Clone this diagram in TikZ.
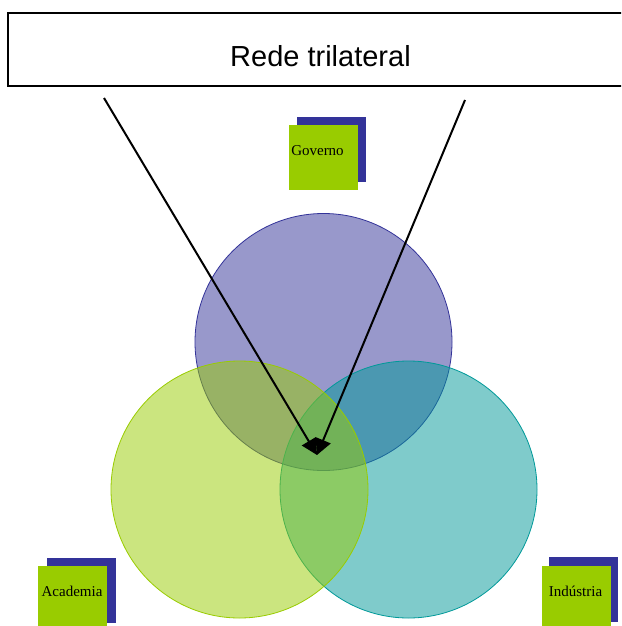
\documentclass[tikz,border=0pt]{standalone}
\usepackage{fontspec}
\setmainfont{Liberation Serif}
\newfontfamily\titlefont{Liberation Sans}
\usetikzlibrary{arrows.meta}
\definecolor{govblue}{HTML}{333399}
\definecolor{indteal}{HTML}{009999}
\definecolor{acalime}{HTML}{99CC00}
\tikzset{
  sphere/.style={circle, minimum size=257pt, inner sep=0pt, line width=0.8pt, fill opacity=0.5},
  tagbox/.style={rectangle, fill=acalime, minimum width=69pt, minimum height=65pt, inner sep=0pt},
  tagshadow/.style={rectangle, fill=govblue, minimum width=69pt, minimum height=65pt, inner sep=0pt},
  taglabel/.style={font=\fontsize{15}{17}\selectfont, inner sep=0pt, anchor=base},
  link/.style={line width=2pt, -{Triangle[length=16pt,width=16pt]}},
}
\begin{document}
\begin{tikzpicture}[x=1pt,y=-1pt]
\clip (0,0) rectangle (621,626);
\fill[white] (0,0) rectangle (621,626);

% title banner, running off the right edge
\node[draw, line width=1.3pt, rectangle, minimum width=622pt, minimum height=73pt, inner sep=0pt] (title) at (319,49.5) {};
\node[font=\titlefont\fontsize{29}{32}\selectfont, inner sep=0pt, anchor=base] (titleT) at (320.5,66.5) {Rede trilateral};

% the three spheres
\node[sphere, draw=govblue, fill=govblue] (gov) at (323.5,342) {};
\node[sphere, draw=indteal, fill=indteal] (ind) at (408.5,489.5) {};
\node[sphere, draw=acalime, fill=acalime] (aca) at (239.5,489.5) {};

% labels with offset shadows
\node[tagshadow] (govS) at (331.5,149) {};
\node[tagbox] (govB) at (323.5,157.5) {};
\node[taglabel] (govT) at (317.5,155.7) {Governo};

\node[tagshadow] (acaS) at (81,590.5) {};
\node[tagbox] (acaB) at (72.5,598.5) {};
\node[taglabel] (acaT) at (72,596) {Academia};

\node[tagshadow] (indS) at (583.5,589.5) {};
\node[tagbox] (indB) at (576,598.5) {};
\node[taglabel] (indT) at (575.5,596) {Indústria};

% arrows converging on the shared centre
\coordinate (left) at (104,98);
\coordinate (right) at (465,100);
\coordinate (core) at (317,455);
\draw[link] (left) -- (core);
\draw[link] (right) -- (core);
\end{tikzpicture}
\end{document}
